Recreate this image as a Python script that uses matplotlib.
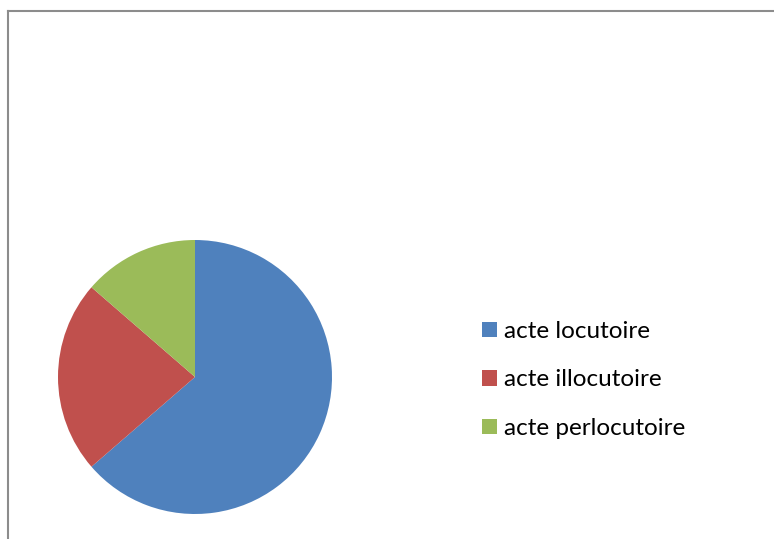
import matplotlib.pyplot as plt
from matplotlib.lines import Line2D

# data
labels = ['acte locutoire', 'acte illocutoire', 'acte perlocutoire']
values = [14, 5, 3]
colors = ['#4F81BD', '#C0504D', '#9BBB59']

W, H = 774, 539
fig = plt.figure(figsize=(W / 100, H / 100), dpi=100)

# chart frame: only top and left edges visible
fig.add_artist(Line2D([8 / W, 8 / W], [0, 1 - 11 / H], color='#8c8c8c', lw=1.5))
fig.add_artist(Line2D([8 / W, 1], [1 - 11 / H, 1 - 11 / H], color='#8c8c8c', lw=1.5))

# pie centred at (195, 377) px, radius ~137 px
cx, cy, r = 195, H - 377, 137
ax = fig.add_axes([(cx - r) / W, (cy - r) / H, 2 * r / W, 2 * r / H])
wedges, _ = ax.pie(values, colors=colors, startangle=90, counterclock=False,
                   radius=1, wedgeprops=dict(linewidth=0))
ax.set_xlim(-1, 1)
ax.set_ylim(-1, 1)
ax.set_aspect('equal')
ax.axis('off')

leg = fig.legend(wedges, labels, loc='upper left',
                 bbox_to_anchor=(482 / W, 1 - 321 / H),
                 frameon=False,
                 prop={'family': 'Lato', 'size': 17.5},
                 handlelength=0.6, handleheight=0.6, handletextpad=0.3,
                 labelspacing=1.13, borderaxespad=0, borderpad=0)

fig.savefig('out.png', dpi=100)
